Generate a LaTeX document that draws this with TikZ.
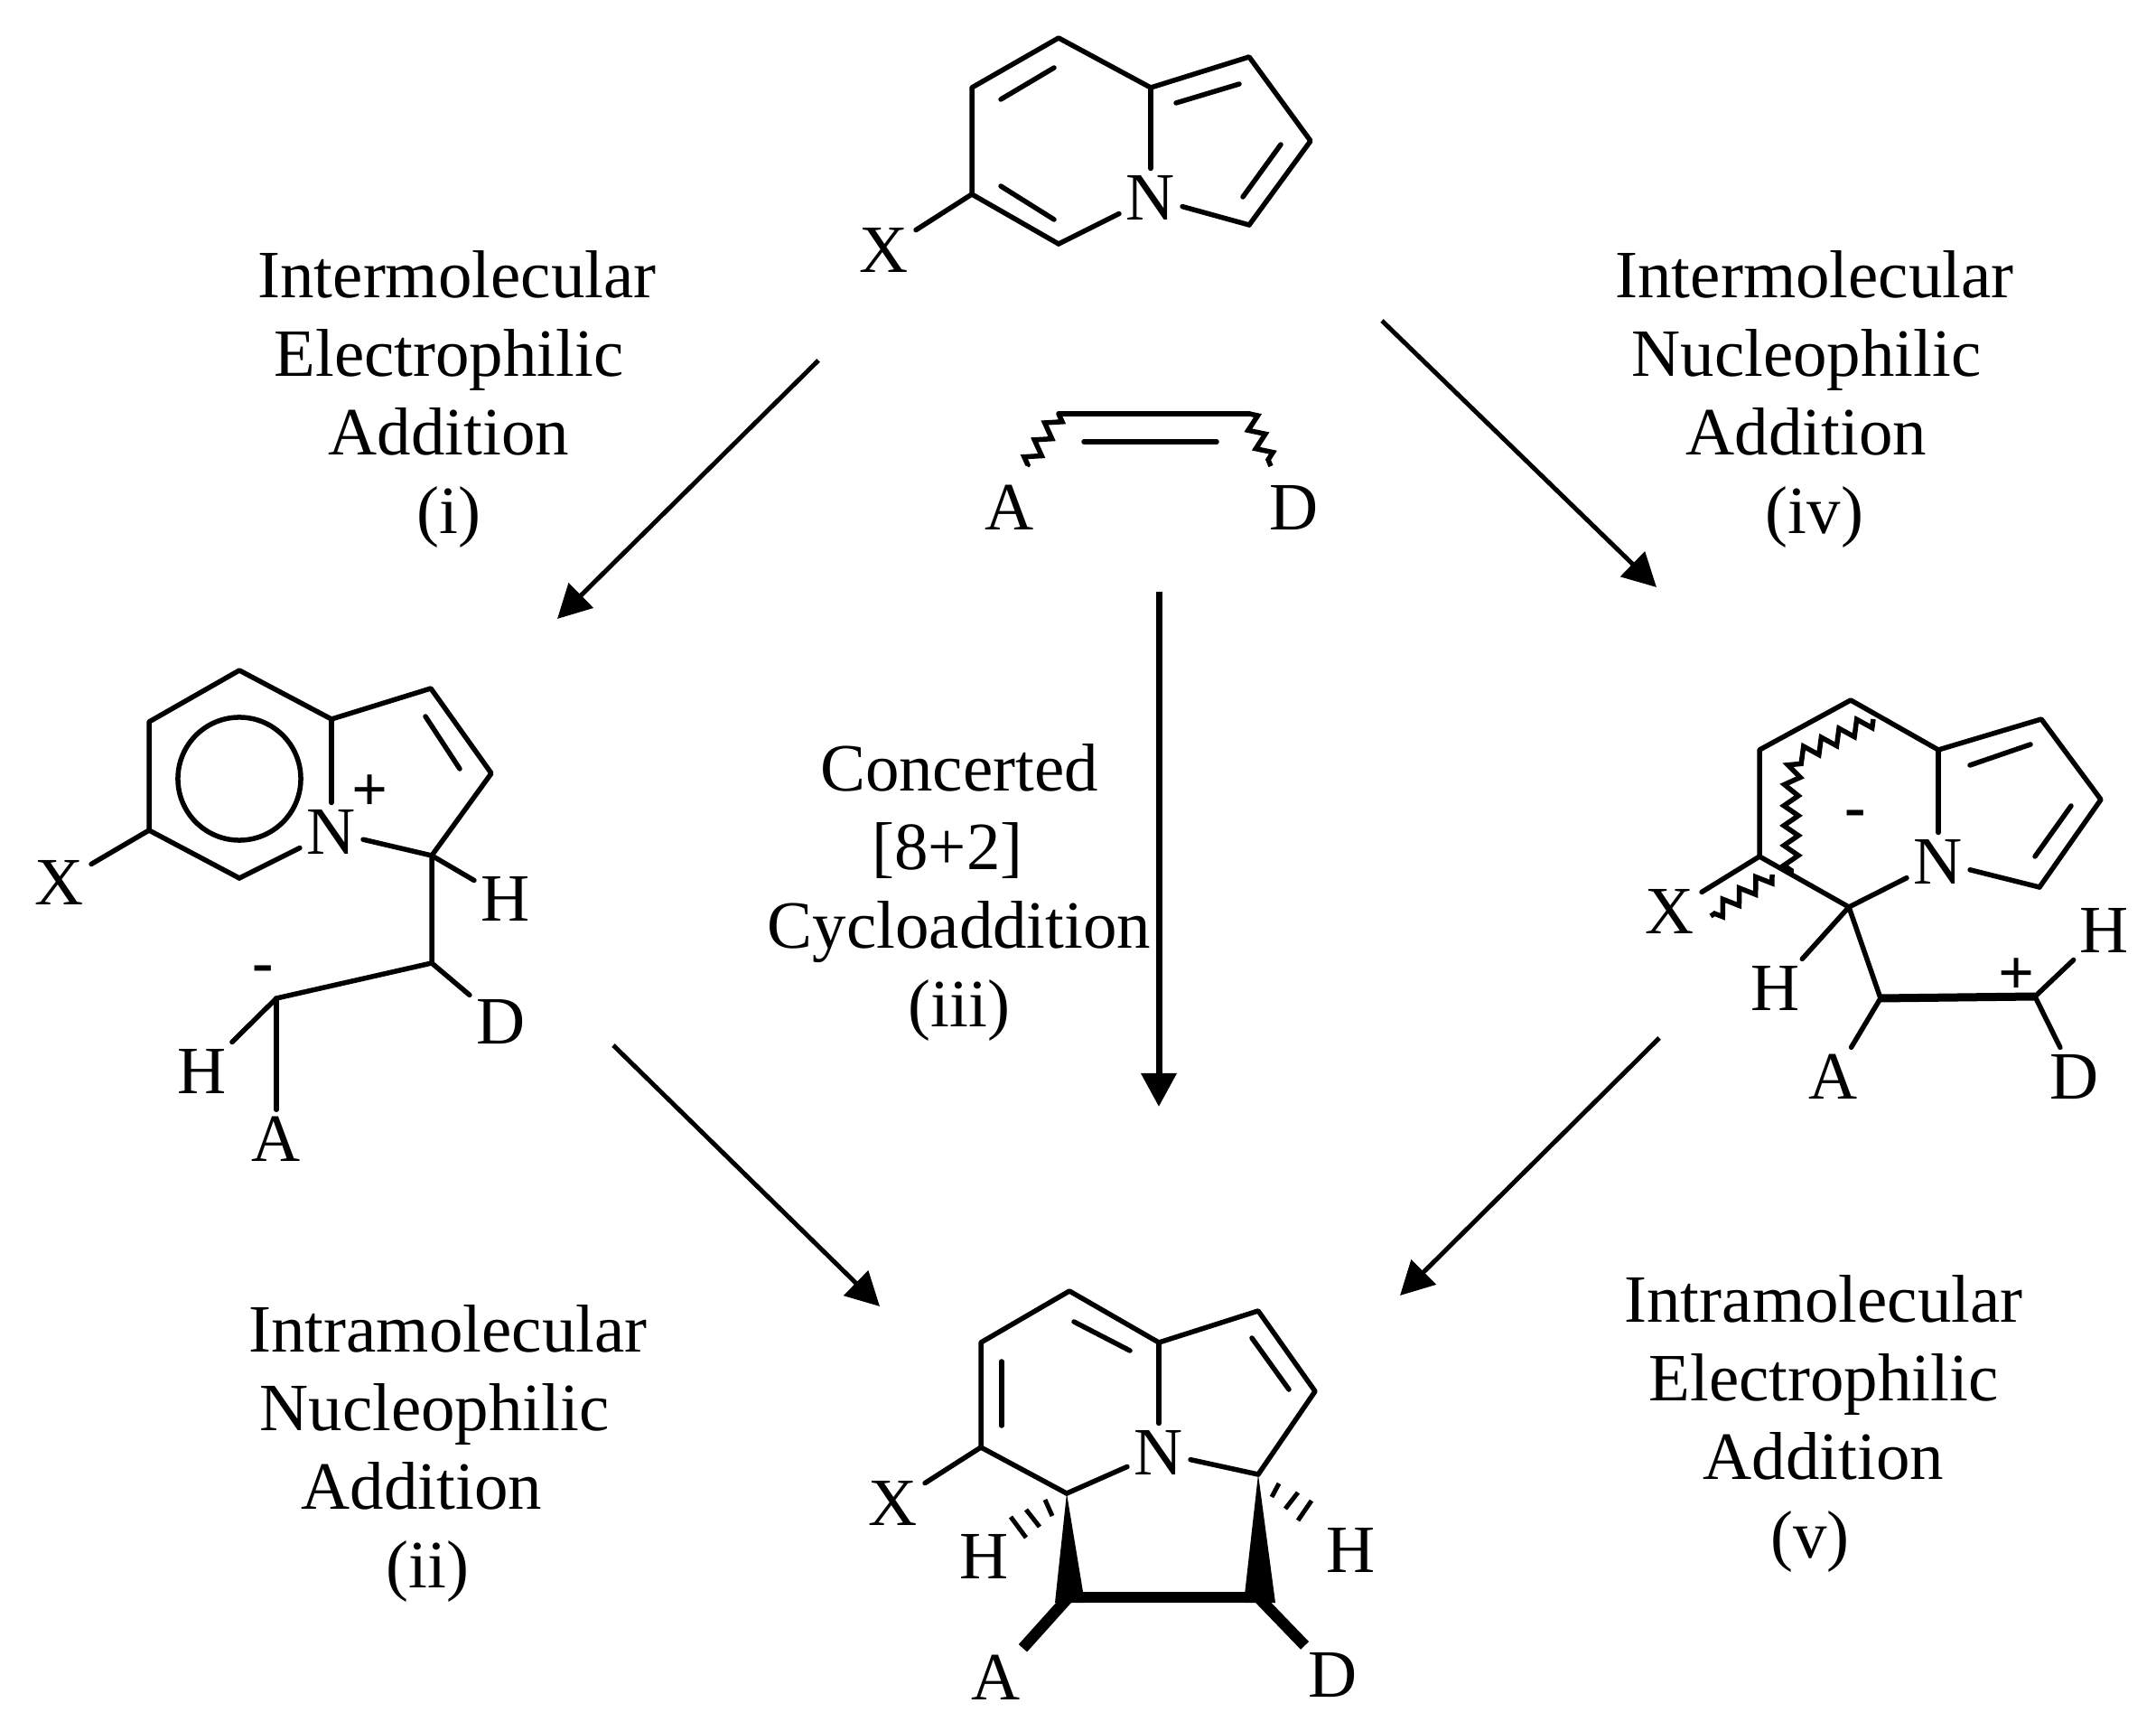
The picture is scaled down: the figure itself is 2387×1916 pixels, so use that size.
\documentclass[tikz,border=0pt]{standalone}
\usepackage{fontspec}
\setmainfont{Liberation Serif}
\usetikzlibrary{arrows.meta,decorations.pathmorphing}
\tikzset{
	atom/.style={inner sep=0.08cm,outer sep=0pt,font=\fontsize{21.3}{24}\selectfont},
	charge/.style={inner sep=0pt,font=\fontsize{20}{24}\selectfont\bfseries},
	caption/.style={align=center,inner sep=0pt,font=\fontsize{21.3}{24.7}\selectfont},
	bond/.style={-,line width=0.055cm,line cap=round,line join=round},
	boldbond/.style={-,line width=0.125cm},
	hashbond/.style={-,line width=0.05cm},
	wavy/.style={-,line width=0.055cm,decorate,decoration={zigzag,segment length=0.22cm,amplitude=0.08cm}},
	reaction/.style={-{Triangle[length=0.37cm,width=0.38cm]},line width=0.05cm},
}
\begin{document}
\begin{tikzpicture}[x=0.01cm,y=-0.01cm]
	\useasboundingbox (0,0) rectangle (2387,1916);
	
	% start molecule
	\coordinate (t1) at (1172,42);
	\coordinate (t2) at (1076,97);
	\coordinate (t3) at (1076,215);
	\coordinate (t4) at (1172,270);
	\coordinate (t5) at (1274,97);
	\coordinate (t6) at (1383,63);
	\coordinate (t7) at (1451,156);
	\coordinate (t8) at (1383,249);
	\node[atom] (tN) at (1274,219) {N};
	\node[atom] (tX) at (979,277) {X};
	\draw[bond] (t4) -- (t3) -- (t2) -- (t1) -- (t5) -- (t6) -- (t7) -- (t8);
	\path[bond] (t4) edge (tN);
	\path[bond] (t5) edge (tN);
	\path[bond] (t8) edge (tN);
	\path[bond] (t3) edge (tX);
	\coordinate (ti1) at (1108,110);
	\coordinate (ti2) at (1167,75);
	\coordinate (ti3) at (1108,206);
	\coordinate (ti4) at (1167,243);
	\coordinate (ti5) at (1302,114);
	\coordinate (ti6) at (1372,93);
	\coordinate (ti7) at (1418,160);
	\coordinate (ti8) at (1376,218);
	\path[bond] (ti1) edge (ti2);
	\path[bond] (ti3) edge (ti4);
	\path[bond] (ti5) edge (ti6);
	\path[bond] (ti7) edge (ti8);
	
	% alkene
	\coordinate (e1) at (1172,458);
	\coordinate (e2) at (1383,458);
	\coordinate (e3) at (1200,489);
	\coordinate (e4) at (1347,489);
	\coordinate (e5) at (1137,516);
	\coordinate (e6) at (1407,516);
	\node[atom] (eA) at (1118,562) {A};
	\node[atom] (eD) at (1433,562) {D};
	\path[bond] (e1) edge (e2);
	\path[bond] (e3) edge (e4);
	\draw[wavy] (e1) -- (e5);
	\draw[wavy] (e2) -- (e6);
	
	% left intermediate
	\coordinate (l1) at (265,742);
	\coordinate (l2) at (165,799);
	\coordinate (l3) at (165,919);
	\coordinate (l4) at (265,972);
	\coordinate (l5) at (367,796);
	\coordinate (l6) at (477,762);
	\coordinate (l7) at (544,856);
	\coordinate (l8) at (478,947);
	\coordinate (l9) at (478,1066);
	\coordinate (l10) at (306,1105);
	\coordinate (li1) at (471,793);
	\coordinate (li2) at (509,851);
	\node[atom] (lN) at (367,921) {N};
	\node[atom] (lX) at (66,977) {X};
	\node[atom] (lH) at (560,995) {H};
	\node[atom] (lD) at (555,1131) {D};
	\node[atom] (lH2) at (224,1186) {H};
	\node[atom] (lA) at (306,1261) {A};
	\node[charge] (lplus) at (410,878) {+};
	\node[charge] (lminus) at (291,1079) {-};
	\node[circle,draw,line width=0.055cm,minimum size=1.36cm,inner sep=0pt] (lc) at (265,862) {};
	\draw[bond] (l4) -- (l3) -- (l2) -- (l1) -- (l5) -- (l6) -- (l7) -- (l8) -- (l9) -- (l10);
	\path[bond] (l4) edge (lN);
	\path[bond] (l5) edge (lN);
	\path[bond] (l8) edge (lN);
	\path[bond] (l3) edge (lX);
	\path[bond] (l8) edge (lH);
	\path[bond] (l9) edge (lD);
	\path[bond] (l10) edge (lH2);
	\path[bond] (l10) edge (lA);
	\path[bond] (li1) edge (li2);
	
	% right intermediate
	\coordinate (r1) at (2049,775);
	\coordinate (r2) at (1948,830);
	\coordinate (r3) at (1948,948);
	\coordinate (r4) at (2047,1004);
	\coordinate (r5) at (2146,830);
	\coordinate (r6) at (2260,796);
	\coordinate (r7) at (2326,885);
	\coordinate (r8) at (2258,982);
	\coordinate (r9) at (2082,1105);
	\coordinate (r10) at (2253,1103);
	\coordinate (ri1) at (2181,847);
	\coordinate (ri2) at (2248,824);
	\coordinate (ri3) at (2293,892);
	\coordinate (ri4) at (2253,948);
	\coordinate (w1) at (2074,796);
	\coordinate (w2) at (1989,839);
	\coordinate (w3) at (1983,872);
	\coordinate (w4) at (1983,968);
	\coordinate (w5) at (1962,968);
	\coordinate (w6) at (1894,1014);
	\node[atom] (rN) at (2146,954) {N};
	\node[atom] (rX) at (1849,1009) {X};
	\node[atom] (rH) at (1966,1094) {H};
	\node[atom] (rH2) at (2330,1030) {H};
	\node[atom] (rA) at (2030,1192) {A};
	\node[atom] (rD) at (2297,1192) {D};
	\node[charge] (rminus) at (2054,907) {-};
	\node[charge] (rplus) at (2233,1081) {+};
	\draw[bond] (r3) -- (r2) -- (r1) -- (r5) -- (r6) -- (r7) -- (r8);
	\draw[bond] (r3) -- (r4) -- (r9);
	\path[boldbond,line width=0.09cm] (r9) edge (r10);
	\path[bond] (r4) edge (rN);
	\path[bond] (r5) edge (rN);
	\path[bond] (r8) edge (rN);
	\path[bond] (r3) edge (rX);
	\path[bond] (r4) edge (rH);
	\path[bond] (r9) edge (rA);
	\path[bond] (r10) edge (rD);
	\path[bond] (r10) edge (rH2);
	\path[bond] (ri1) edge (ri2);
	\path[bond] (ri3) edge (ri4);
	\draw[wavy] (w1) -- (w2) -- (w3) -- (w4);
	\draw[wavy] (w5) -- (w6);
	
	% product
	\coordinate (p1) at (1184,1429);
	\coordinate (p2) at (1086,1486);
	\coordinate (p3) at (1086,1602);
	\coordinate (p4) at (1181,1653);
	\coordinate (p5) at (1283,1486);
	\coordinate (p6) at (1393,1451);
	\coordinate (p7) at (1456,1540);
	\coordinate (p8) at (1393,1632);
	\coordinate (p9) at (1183,1768);
	\coordinate (p10) at (1393,1768);
	\coordinate (pi1) at (1189,1463);
	\coordinate (pi2) at (1251,1495);
	\coordinate (pi3) at (1109,1507);
	\coordinate (pi4) at (1109,1578);
	\coordinate (pi5) at (1386,1481);
	\coordinate (pi6) at (1427,1538);
	\node[atom] (pN) at (1283,1608) {N};
	\node[atom] (pX) at (989,1664) {X};
	\node[atom] (pH) at (1090,1723) {H};
	\node[atom] (pH2) at (1496,1716) {H};
	\node[atom] (pA) at (1103,1857) {A};
	\node[atom] (pD) at (1476,1854) {D};
	\draw[bond] (p4) -- (p3) -- (p2) -- (p1) -- (p5) -- (p6) -- (p7) -- (p8);
	\path[bond] (p4) edge (pN);
	\path[bond] (p5) edge (pN);
	\path[bond] (p8) edge (pN);
	\path[bond] (p3) edge (pX);
	\path[bond] (pi1) edge (pi2);
	\path[bond] (pi3) edge (pi4);
	\path[bond] (pi5) edge (pi6);
	\fill (p4) -- (1168,1774) -- (1201,1774) -- cycle;
	\fill (p8) -- (1377,1774) -- (1412,1774) -- cycle;
	\path[boldbond] (p9) edge (p10);
	\path[boldbond] (p9) edge (pA);
	\path[boldbond] (p10) edge (pD);
	\foreach \xa/\ya/\xb/\yb in {1157/1660/1165/1678,1136/1671/1151/1690,1119/1679/1136/1702,
		1416/1642/1408/1657,1437/1652/1423/1670,1452/1661/1437/1683}
		\draw[hashbond] (\xa,\ya) -- (\xb,\yb);
	
	% arrows
	\coordinate (s1) at (906,399);
	\coordinate (f1) at (617,685);
	\coordinate (s2) at (679,1157);
	\coordinate (f2) at (974,1446);
	\coordinate (s3) at (1283,655);
	\coordinate (f3) at (1283,1225);
	\coordinate (s4) at (1530,355);
	\coordinate (f4) at (1834,650);
	\coordinate (s5) at (1837,1149);
	\coordinate (f5) at (1550,1434);
	\path[reaction] (s1) edge (f1);
	\path[reaction] (s2) edge (f2);
	\path[reaction,line width=0.07cm] (s3) edge (f3);
	\path[reaction] (s4) edge (f4);
	\path[reaction] (s5) edge (f5);
	
	% labels
	\node[caption] (capi) at (497,442) {\hspace*{0.18cm}Intermolecular\\Electrophilic\\Addition\\(i)};
	\node[caption] (capii) at (481,1609) {\hspace*{0.3cm}Intramolecular\\Nucleophilic\\Addition\hspace*{0.28cm}\mbox{}\\(ii)\hspace*{0.15cm}};
	\node[caption] (capiii) at (1062,988) {Concerted\\{[8+2]}\hspace*{0.26cm}\mbox{}\\Cycloaddition\\(iii)};
	\node[caption] (capiv) at (2000,442) {\hspace*{0.18cm}Intermolecular\\Nucleophilic\\Addition\\\hspace*{0.18cm}(iv)};
	\node[caption] (capv) at (2019,1576) {Intramolecular\\Electrophilic\\Addition\\(v)\hspace*{0.3cm}};
	
\end{tikzpicture}
\end{document}
